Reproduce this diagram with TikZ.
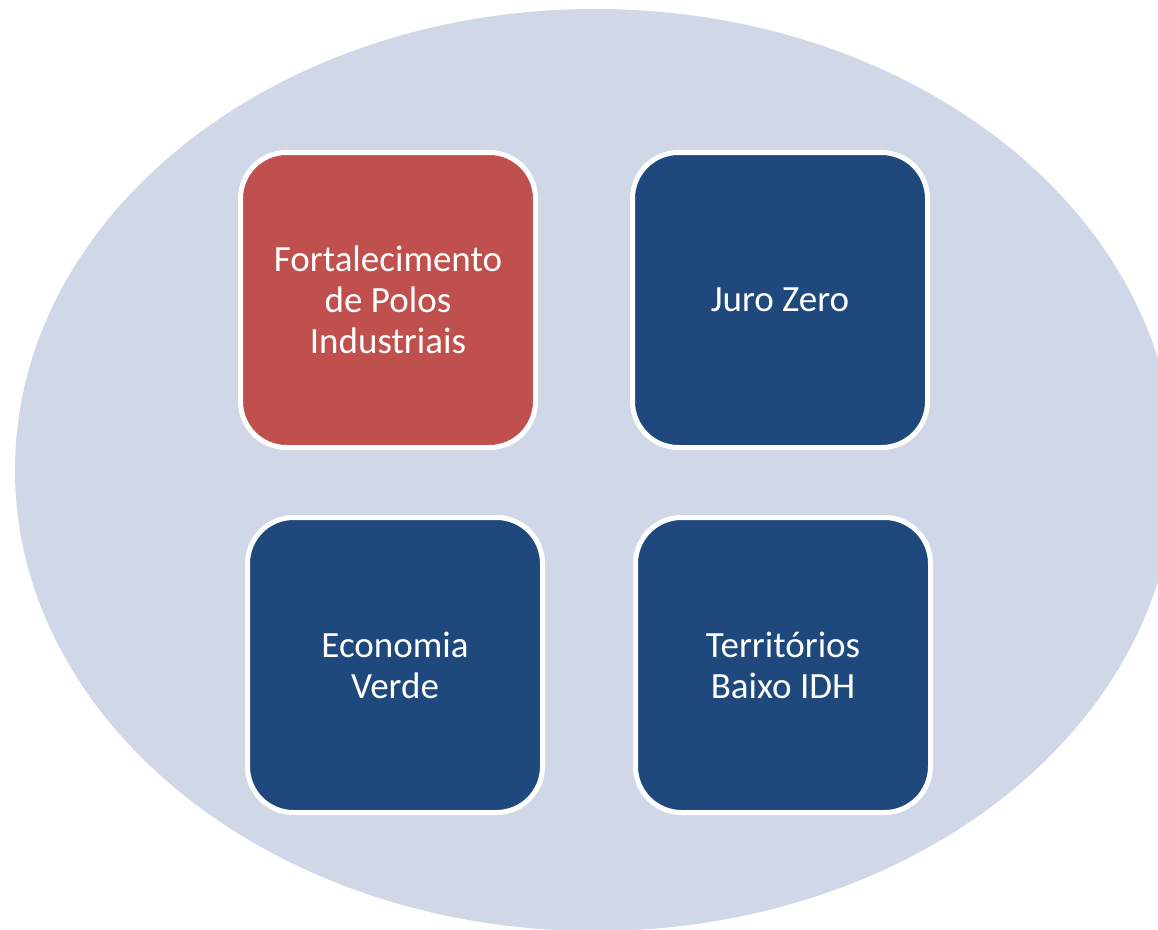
\documentclass[tikz,border=0pt]{standalone}
\usepackage{fontspec}
\setmainfont{Carlito}
\definecolor{ellfill}{HTML}{D0D8E8}
\definecolor{boxred}{HTML}{C0504D}
\definecolor{boxblue}{HTML}{1F497D}
\begin{document}
\begin{tikzpicture}[x=1pt,y=-1pt,
  tile/.style={draw=white, line width=5pt, rounded corners=46pt,
    minimum width=295pt, minimum height=295pt, inner sep=0pt,
    align=center, text=white, font=\fontsize{37}{41}\selectfont}]
\useasboundingbox (0,0) rectangle (1158,929);
\clip (0,0) rectangle (1158,929);
\fill[white] (0,0) rectangle (1158,929);
\fill[ellfill] (595,470) ellipse [x radius=580pt, y radius=461pt];
\node[tile, fill=boxred] (fort) at (388,300) {Fortalecimento\\de Polos\\Industriais};
\node[tile, fill=boxblue] (juro) at (780,300) {Juro Zero};
\node[tile, fill=boxblue] (eco) at (395,665) {Economia\\Verde};
\node[tile, fill=boxblue] (terr) at (783,665) {Territórios\\Baixo IDH};
\end{tikzpicture}
\end{document}
